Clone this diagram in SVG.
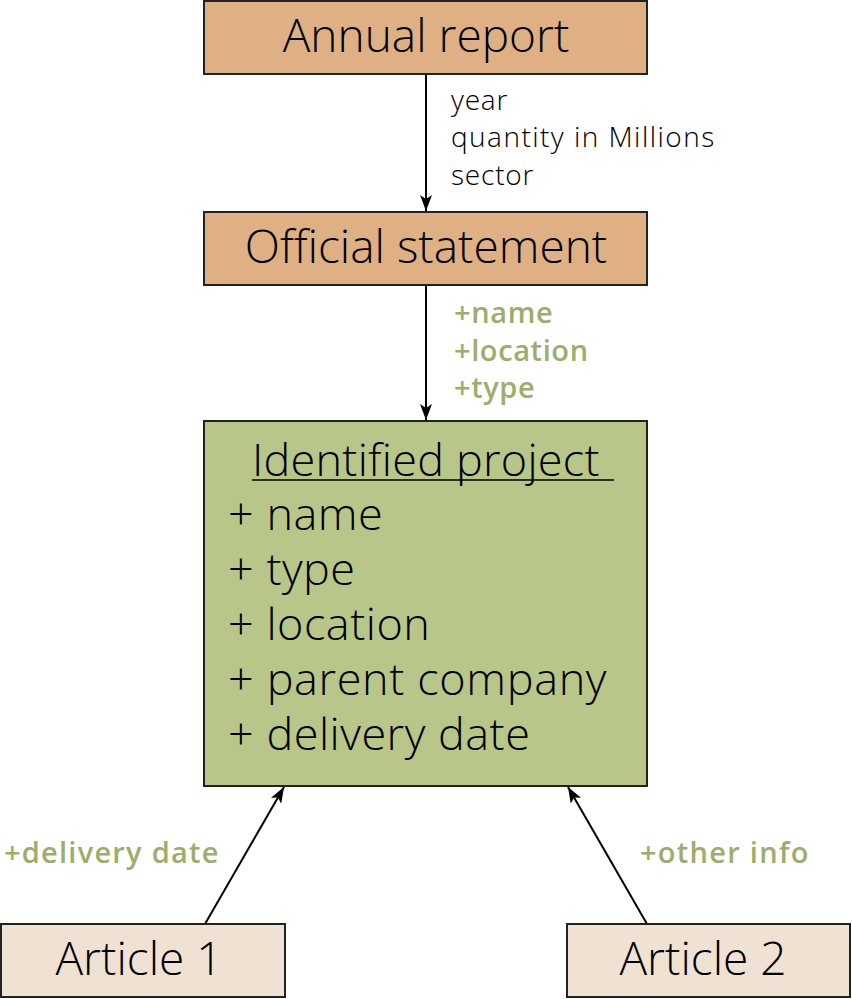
<svg xmlns="http://www.w3.org/2000/svg" width="852" height="999" viewBox="0 0 852 999">
<style>
.box{stroke:#222;stroke-width:2}
.or{fill:#DEB084}
.gr{fill:#B8C789}
.ar{fill:#F0E2D3}
text{font-family:"Open Sans","Noto Sans","DejaVu Sans",sans-serif;font-weight:300;fill:#000}
.big{font-size:46px}
.lbl{font-size:28px;letter-spacing:0.8px}
.glbl{font-size:29px;font-weight:600;fill:#9DAD6C;letter-spacing:0.6px}
.item{font-size:45px;letter-spacing:0.5px}
.conn{stroke:#000;stroke-width:2;fill:none}
</style>
<defs>
<marker id="a2" viewBox="0 0 16 12" refX="16" refY="6" markerWidth="16" markerHeight="12" markerUnits="userSpaceOnUse" orient="auto">
<path d="M0,0 L16,6 L0,12 L4,6 Z" fill="#000"/>
</marker>
</defs>
<g id="connectors">
<line class="conn" x1="426" y1="74" x2="426" y2="211" marker-end="url(#a2)"/>
<line class="conn" x1="426" y1="285" x2="426" y2="420" marker-end="url(#a2)"/>
<line class="conn" x1="205" y1="924" x2="284" y2="787" marker-end="url(#a2)"/>
<line class="conn" x1="647" y1="924" x2="568" y2="787" marker-end="url(#a2)"/>
<text class="lbl" x="451" y="110">year</text>
<text class="lbl" x="451" y="147" textLength="264">quantity in Millions</text>
<text class="lbl" x="451" y="185">sector</text>
<text class="glbl" x="454" y="323">+name</text>
<text class="glbl" x="454" y="361">+location</text>
<text class="glbl" x="454" y="398">+type</text>
<text class="glbl" x="4" y="863" textLength="215">+delivery date</text>
<text class="glbl" x="640" y="863" textLength="169">+other info</text>
</g>
<g id="annual-report">
<rect class="box or" x="204" y="1" width="443" height="73"/>
<text class="big" x="426" y="52" text-anchor="middle">Annual report</text>
</g>
<g id="official-statement">
<rect class="box or" x="204" y="212" width="443" height="73"/>
<text class="big" x="426" y="263" text-anchor="middle">Official statement</text>
</g>
<g id="identified-project">
<rect class="box gr" x="204" y="421" width="443" height="365"/>
<text class="item" x="252" y="476" textLength="348">Identified project</text>
<line x1="252" y1="480" x2="614" y2="480" stroke="#000" stroke-width="1.5"/>
<text class="item" x="228" y="530">+ name</text>
<text class="item" x="228" y="585">+ type</text>
<text class="item" x="228" y="640">+ location</text>
<text class="item" x="228" y="695" textLength="379">+ parent company</text>
<text class="item" x="228" y="750">+ delivery date</text>
</g>
<g id="article-1">
<rect class="box ar" x="1" y="924" width="284" height="73"/>
<text class="big" x="139" y="975" text-anchor="middle">Article 1</text>
</g>
<g id="article-2">
<rect class="box ar" x="567" y="924" width="283" height="73"/>
<text class="big" x="703" y="975" text-anchor="middle">Article 2</text>
</g>
</svg>
